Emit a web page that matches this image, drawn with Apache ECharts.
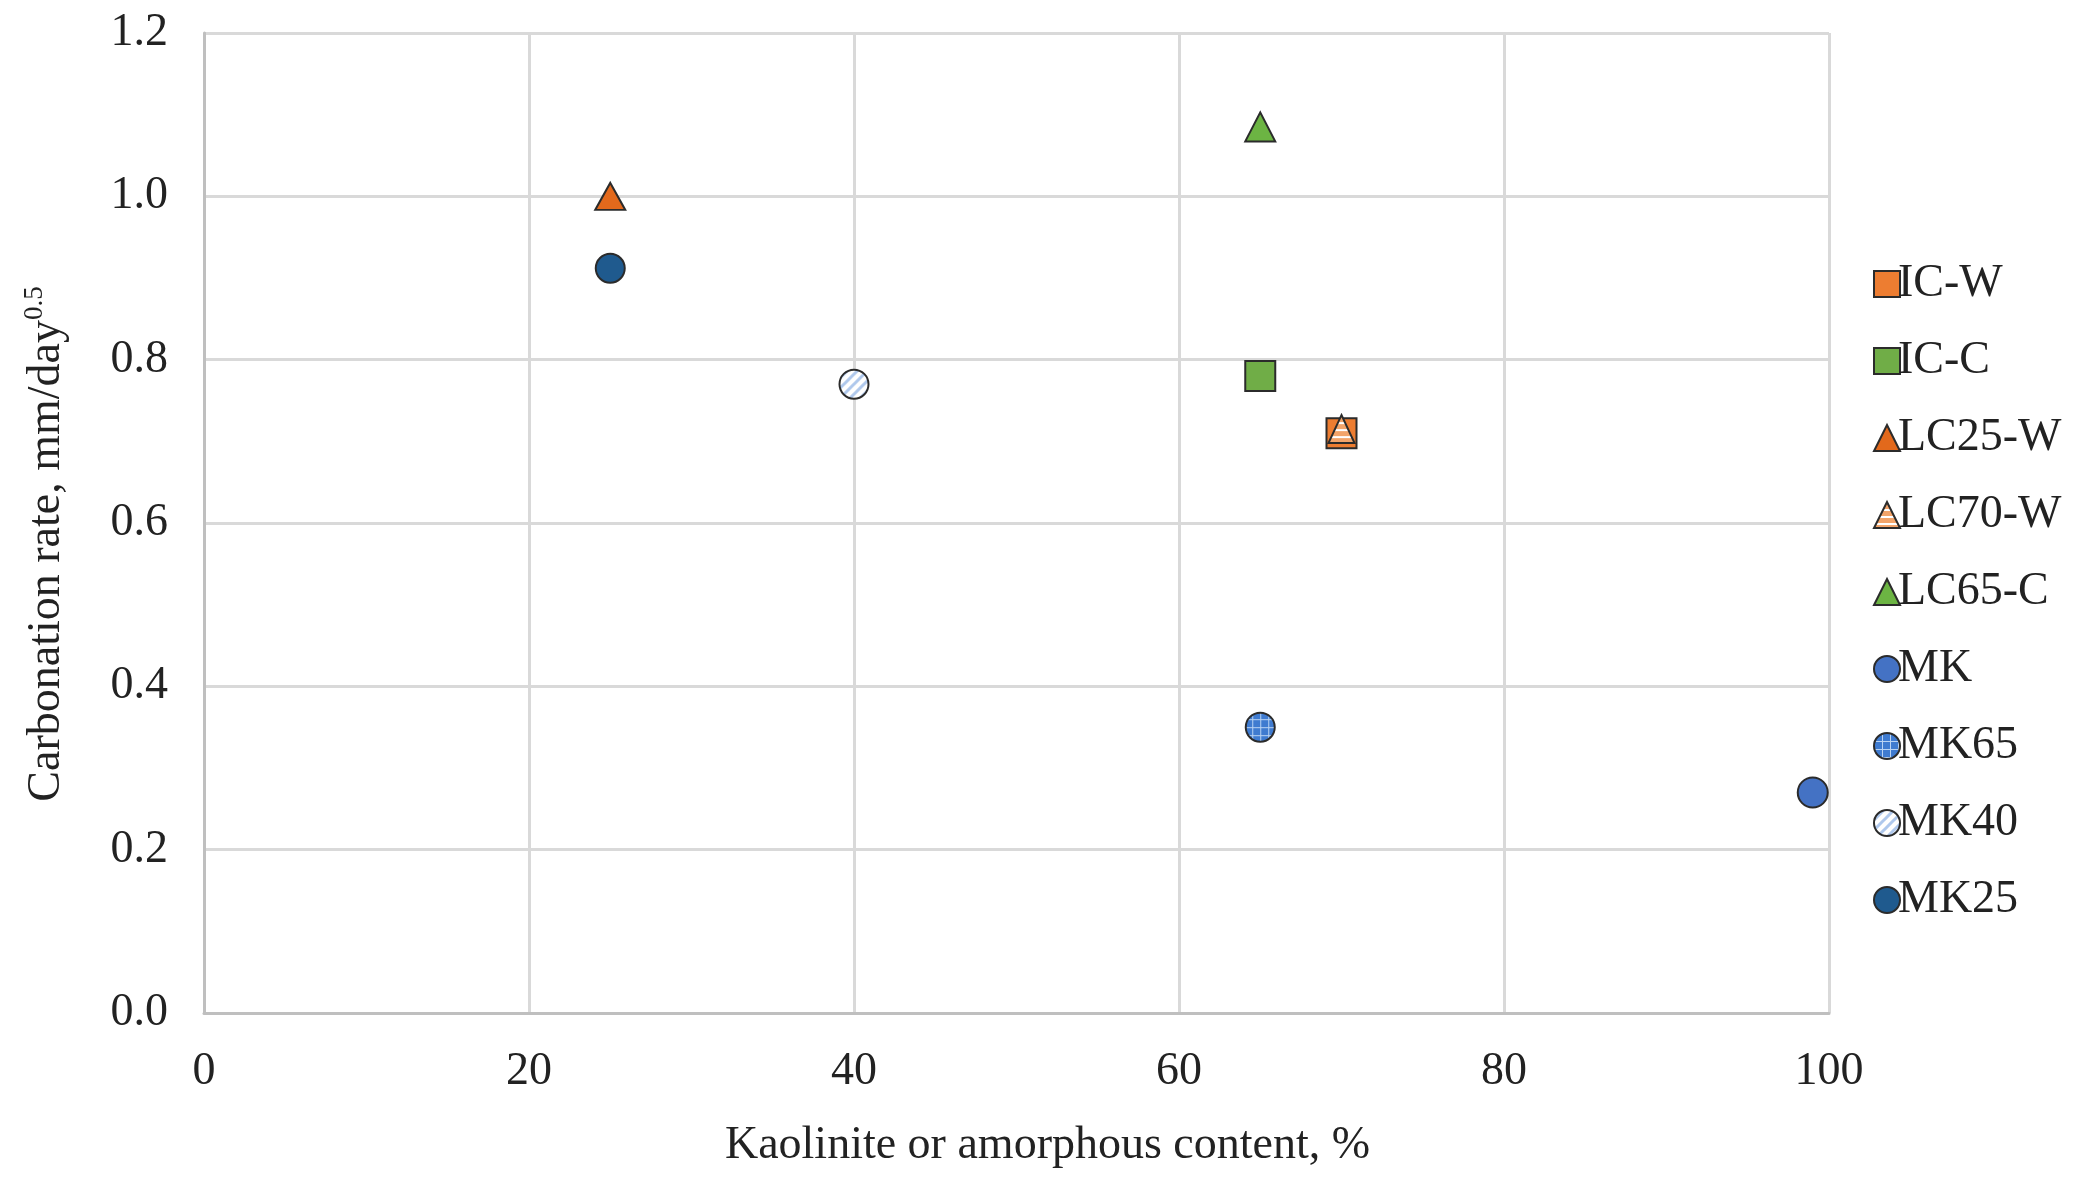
<!DOCTYPE html>
<html>
<head>
<meta charset="utf-8">
<script src="https://cdn.jsdelivr.net/npm/echarts@6/dist/echarts.min.js"></script>
<style>
  html, body { margin: 0; padding: 0; background: #ffffff; }
  #chart { width: 2100px; height: 1183px; }
</style>
</head>
<body>
<div id="chart"></div>
<script>
// Mix names and their measured points [kaolinite or amorphous content %, carbonation rate]
const seriesNames = ['IC-W', 'IC-C', 'LC25-W', 'LC70-W', 'LC65-C', 'MK', 'MK65', 'MK40', 'MK25'];
const icW   = [[70, 0.71]];
const icC   = [[65, 0.78]];
const lc25W = [[25, 1.00]];
const lc70W = [[70, 0.715]];
const lc65C = [[65, 1.085]];
const mk    = [[99, 0.27]];
const mk65  = [[65, 0.35]];
const mk40  = [[40, 0.77]];
const mk25  = [[25, 0.912]];

const xTicks = [0, 20, 40, 60, 80, 100];
const yTicks = [0.0, 0.2, 0.4, 0.6, 0.8, 1.0, 1.2];

const FONT = '"Liberation Serif", "Times New Roman", serif';

// Small tile canvases for the hatched markers
function makeTile(size, draw) {
  const c = document.createElement('canvas');
  c.width = size; c.height = size;
  draw(c.getContext('2d'), size);
  return c;
}
const stripesOrange = makeTile(7, (g, s) => {
  g.fillStyle = '#F2A46A'; g.fillRect(0, 0, s, s);
  g.fillStyle = '#FFFFFF'; g.fillRect(0, 0, s, 2);
});
const gridBlue = makeTile(8, (g, s) => {
  g.fillStyle = '#3F7BD0'; g.fillRect(0, 0, s, s);
  g.fillStyle = '#B9D3F3'; g.fillRect(0, 0, 1, s); g.fillRect(0, 0, s, 1);
});
const diagLight = makeTile(10, (g, s) => {
  g.fillStyle = '#FFFFFF'; g.fillRect(0, 0, s, s);
  g.strokeStyle = '#AFC8EC'; g.lineWidth = 3;
  g.beginPath();
  g.moveTo(-2, s + 2); g.lineTo(s + 2, -2);
  g.moveTo(-2, 2); g.lineTo(2, -2);
  g.moveTo(s - 2, s + 2); g.lineTo(s + 2, s - 2);
  g.stroke();
});

// Symbols are drawn on a unit path that gets scaled to symbolSize,
// so the tile is scaled back to keep its pixel size on the plot.
function patternFill(tile, size) {
  const w = Array.isArray(size) ? size[0] : size;
  const h = Array.isArray(size) ? size[1] : size;
  return { image: tile, repeat: 'repeat', scaleX: 2 / w, scaleY: 2 / h };
}

const EDGE = '#2b2b2b';
function pointSeries(name, data, symbol, size, fill) {
  const isTile = fill instanceof HTMLCanvasElement;
  const seriesColor = isTile ? { image: fill, repeat: 'repeat' } : fill;
  return {
    name: name,
    type: 'scatter',
    data: data.map(p => isTile
      ? { value: p, itemStyle: { color: patternFill(fill, size) } }
      : p),
    symbol: symbol,
    symbolSize: size,
    itemStyle: { color: seriesColor, borderColor: EDGE, borderWidth: 2, opacity: 1 },
    emphasis: { disabled: true },
    z: 3
  };
}

const series = [
  pointSeries('IC-W',   icW,   'rect',     30, '#ED7D31'),
  pointSeries('IC-C',   icC,   'rect',     30, '#70AD47'),
  pointSeries('LC25-W', lc25W, 'triangle', [30, 27], '#E2691C'),
  pointSeries('LC70-W', lc70W, 'triangle', [26, 28], stripesOrange),
  pointSeries('LC65-C', lc65C, 'triangle', [30, 29], '#6CB443'),
  pointSeries('MK',     mk,    'circle',   30, '#4472C4'),
  pointSeries('MK65',   mk65,  'circle',   29, gridBlue),
  pointSeries('MK40',   mk40,  'circle',   29, diagLight),
  pointSeries('MK25',   mk25,  'circle',   29, '#1F5A8E')
];

const chart = echarts.init(document.getElementById('chart'), null, { renderer: 'canvas' });
chart.setOption({
  animation: false,
  backgroundColor: '#ffffff',
  textStyle: { fontFamily: FONT, color: '#222' },
  grid: { left: 204, right: 271, top: 33, bottom: 170, containLabel: false },
  legend: {
    orient: 'vertical',
    left: 1868,
    top: 255,
    data: seriesNames,
    itemWidth: 26,
    itemHeight: 26,
    itemGap: 29,
    selectedMode: false,
    textStyle: { fontFamily: FONT, fontSize: 46, color: '#222', padding: [0, 0, 0, -7], lineHeight: 48 }
  },
  xAxis: {
    type: 'value',
    min: 0,
    max: 100,
    interval: 20,
    name: 'Kaolinite or amorphous content, %',
    nameLocation: 'middle',
    nameGap: 110,
    nameTextStyle: { fontFamily: FONT, fontSize: 46, color: '#222', padding: [0, 0, 0, 62] },
    axisLine: { show: true, lineStyle: { color: '#BFBFBF', width: 3 } },
    axisTick: { show: false },
    axisLabel: {
      fontFamily: FONT, fontSize: 46, color: '#222', margin: 36,
      formatter: v => xTicks.includes(v) ? String(v) : ''
    },
    splitLine: { show: true, lineStyle: { color: '#D9D9D9', width: 3 } }
  },
  yAxis: {
    type: 'value',
    min: 0,
    max: 1.2,
    interval: 0.2,
    name: '{t|Carbonation rate, mm/day}{s|0.5}',
    nameLocation: 'middle',
    nameGap: 132,
    nameRotate: 90,
    nameTextStyle: {
      padding: [0, 42, 0, 0],
      rich: {
        t: { fontFamily: FONT, fontSize: 46, color: '#222' },
        s: { fontFamily: FONT, fontSize: 27, color: '#222', padding: [0, 0, 24, 0] }
      }
    },
    axisLine: { show: true, lineStyle: { color: '#BFBFBF', width: 3 } },
    axisTick: { show: false },
    axisLabel: {
      fontFamily: FONT, fontSize: 46, color: '#222', margin: 36,
      formatter: v => {
        const hit = yTicks.find(t => Math.abs(t - v) < 1e-9);
        return hit === undefined ? '' : hit.toFixed(1);
      }
    },
    splitLine: { show: true, lineStyle: { color: '#D9D9D9', width: 3 } }
  },
  series: series
});
</script>
</body>
</html>
